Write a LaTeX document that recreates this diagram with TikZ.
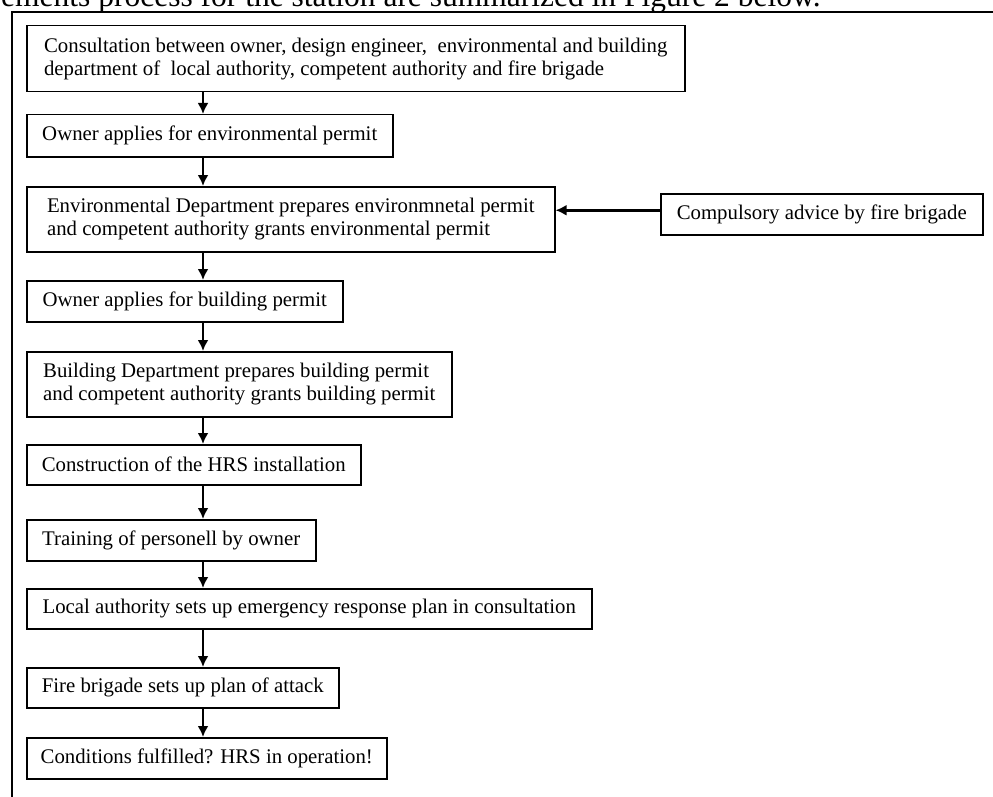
\documentclass[tikz,border=0pt]{standalone}
\usepackage{fontspec}
\setmainfont{Liberation Serif}
\usetikzlibrary{arrows.meta}
\tikzset{
  box/.style={draw, line width=1.5pt, anchor=north west, inner xsep=0pt, inner ysep=0pt,
    align=left, font=\fontsize{20.8}{23}\selectfont},
  arr/.style={line width=2.6pt, -{Latex[length=11pt,width=11pt]}},
  frame/.style={line width=1.8pt},
}
\begin{document}
\begin{tikzpicture}[x=1pt,y=-1pt]
\useasboundingbox (0,0) rectangle (993,797);
\begin{scope}
\clip (0,0) rectangle (993,797);
\node[anchor=base west, inner sep=0pt, font=\fontsize{31.5}{31.5}\selectfont] (top) at (1,7)
  {ements process for the station are summarized in Figure 2 below.};
\end{scope}
\coordinate (fb) at (12,797);
\coordinate (fc) at (12,12);
\coordinate (fr) at (993,12);
\draw[frame] (fb) -- (fc) -- (fr);
\coordinate (ax) at (203,0);

\node[box, minimum width=658pt, minimum height=66pt] (b1) at (26,25)
  {Consultation between owner, design engineer, \ environmental and building\\department of \ local authority, competent authority and fire brigade};
\node[box, minimum width=366pt, minimum height=42pt] (b2) at (26,114)
  {Owner applies for environmental permit};
\node[box, minimum width=528pt, minimum height=65pt] (b3) at (26,186)
  {Environmental Department prepares environmnetal permit\\and competent authority grants environmental permit};
\node[box, minimum width=322pt, minimum height=41pt] (c) at (660,193)
  {Compulsory advice by fire brigade};
\node[box, minimum width=316pt, minimum height=41pt] (b4) at (26,280)
  {Owner applies for building permit};
\node[box, minimum width=425pt, minimum height=65pt] (b5) at (26,351)
  {Building Department prepares building permit\\and competent authority grants building permit};
\node[box, minimum width=334pt, minimum height=40pt] (b6) at (26,444)
  {Construction of the HRS installation};
\node[box, minimum width=289pt, minimum height=41pt] (b7) at (26,519)
  {Training of personell by owner};
\node[box, minimum width=565pt, minimum height=40pt] (b8) at (26,588)
  {Local authority sets up emergency response plan in consultation};
\node[box, minimum width=312pt, minimum height=40pt] (b9) at (26,667)
  {Fire brigade sets up plan of attack};
\node[box, minimum width=360pt, minimum height=41pt] (b10) at (26,737)
  {Conditions fulfilled? HRS in operation!};

\foreach \a/\b in {b1/b2,b2/b3,b3/b4,b4/b5,b5/b6,b6/b7,b7/b8,b8/b9,b9/b10}
  \draw[arr] (\a.south -| ax) -- (\b.north -| ax);
\draw[arr] ([yshift=4pt]c.west) -- ([yshift=4pt]c.west -| b3.east);
\end{tikzpicture}
\end{document}
